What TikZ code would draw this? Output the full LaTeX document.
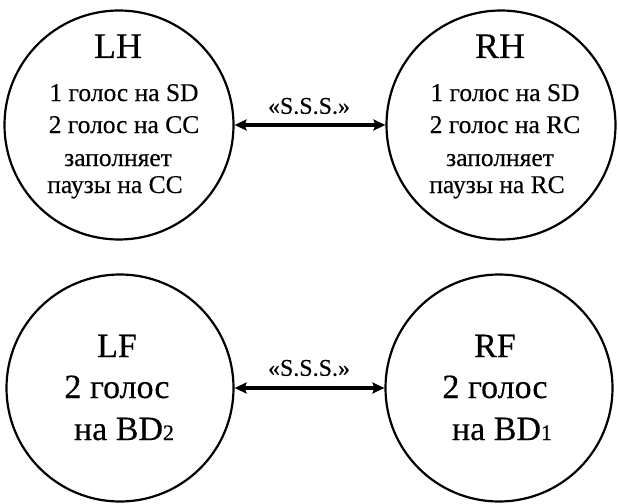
\documentclass[tikz,border=0pt]{standalone}
\usepackage{fontspec}
\setmainfont{Liberation Serif}[FakeBold=0.35]
\usetikzlibrary{arrows.meta}
\begin{document}
\begin{tikzpicture}[x=1pt,y=-1pt,
  ring/.style={circle,draw,line width=2.2pt,minimum size=229pt,inner sep=0pt},
  big/.style={anchor=base,inner sep=0pt,font=\fontsize{36}{36}\selectfont},
  mid/.style={anchor=base,inner sep=0pt,font=\fontsize{34}{34}\selectfont},
  small/.style={anchor=base,inner sep=0pt,font=\fontsize{25.5}{25.5}\selectfont},
  lbl/.style={inner sep=0pt,font=\fontsize{24}{24}\selectfont},
  link/.style={line width=3.2pt,{Stealth[length=12pt,width=11pt,inset=2pt]}-{Stealth[length=12pt,width=11pt,inset=2pt]}}]
\useasboundingbox (0,0) rectangle (618,503);
% circles
\node[ring] (lh) at (119,125) {};
\node[ring] (rh) at (501,125) {};
\node[ring,minimum size=227pt] (lf) at (120,388) {};
\node[ring,minimum size=227pt] (rf) at (499,388) {};
% LH text
\node[big] (lht) at (118,58) {LH};
\node[small] (lh1) at (124,101) {1 голос на SD};
\node[small] (lh2) at (124,133) {2 голос на CC};
\node[small] (lh3) at (118,166) {заполняет};
\node[small] (lh4) at (115,193) {паузы на CC};
% RH text
\node[big] (rht) at (500,58) {RH};
\node[small] (rh1) at (505,101) {1 голос на SD};
\node[small] (rh2) at (505,133) {2 голос на RC};
\node[small] (rh3) at (500,166) {заполняет};
\node[small] (rh4) at (497,193) {паузы на RC};
% LF text
\node[mid] (lft) at (117,357) {LF};
\node[mid] (lf1) at (117,398) {2 голос};
\node[mid] (lf2) at (124,440) {на BD{\fontsize{22}{22}\selectfont 2}};
% RF text
\node[mid] (rft) at (495,357) {RF};
\node[mid] (rf1) at (495,398) {2 голос};
\node[mid] (rf2) at (502,440) {на BD{\fontsize{22}{22}\selectfont 1}};
% connectors
\draw[link] (lh.east) -- (rh.west);
\draw[link] (lf.east) -- (rf.west);
\node[lbl] (s1) at (309,106) {«S.S.S.»};
\node[lbl] (s2) at (309,368) {«S.S.S.»};
\end{tikzpicture}
\end{document}
